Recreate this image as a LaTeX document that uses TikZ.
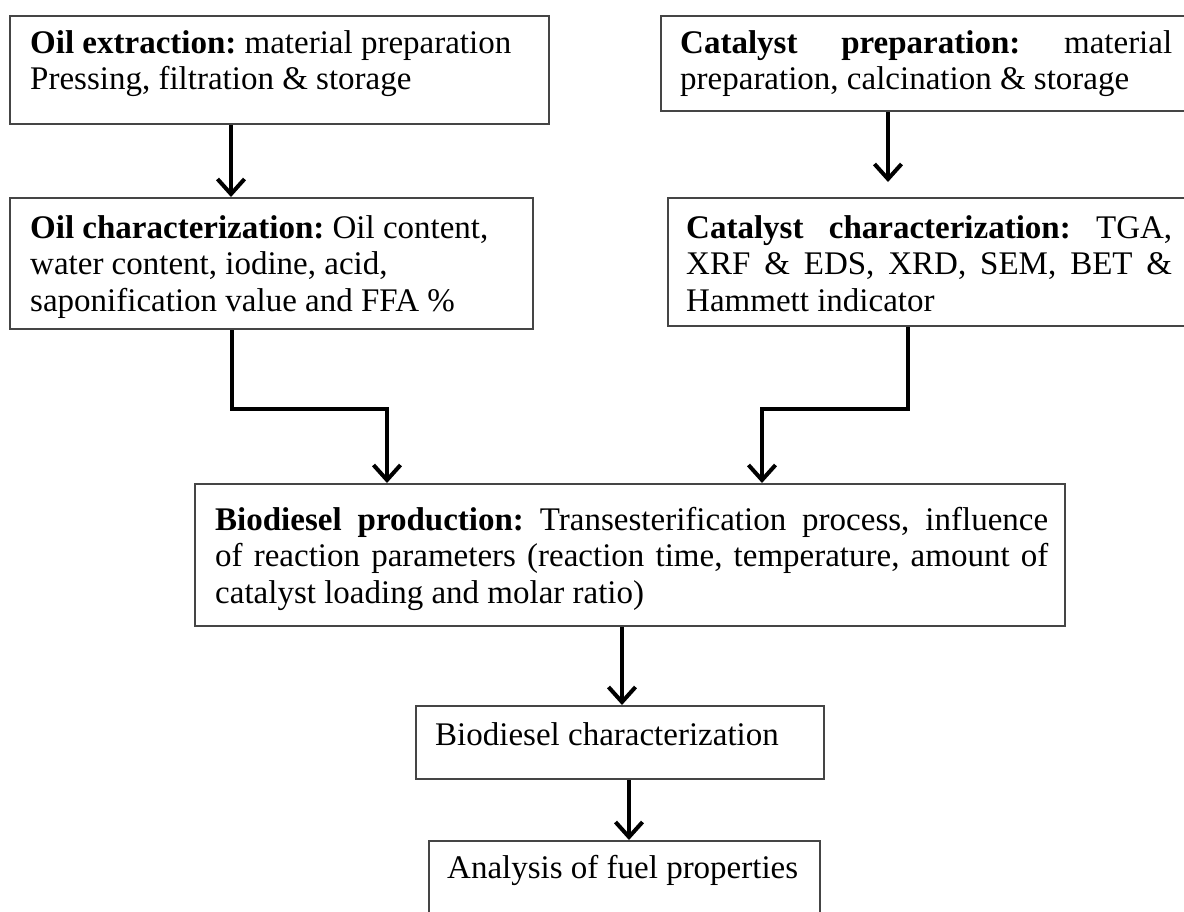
\documentclass[tikz,border=0pt]{standalone}
\usepackage{fontspec}
\setmainfont{Liberation Serif}
\usetikzlibrary{arrows.meta}
\definecolor{boxgray}{HTML}{454545}
\tikzset{
  box/.style={draw=boxgray, line width=2pt, anchor=north west, inner sep=0pt},
  txt/.style={anchor=base west, inner sep=0pt, font=\fontsize{33}{36.5}\selectfont\frenchspacing},
  conn/.style={line width=4pt, line join=miter, -{Straight Barb[length=15pt,width=27pt]}},
}
\hbadness=10000
\begin{document}
\begin{tikzpicture}[x=1pt,y=-1pt]
\useasboundingbox (0,0) rectangle (1184,911);
\clip (0,0) rectangle (1184,911);
% boxes
\node[box, minimum width=539pt, minimum height=108pt] (b1) at (9,15) {};
\node[box, minimum width=540pt, minimum height=95pt] (b2) at (660,15) {};
\node[box, minimum width=523pt, minimum height=131pt] (b3) at (9,197) {};
\node[box, minimum width=540pt, minimum height=128pt] (b4) at (667,197) {};
\node[box, minimum width=870pt, minimum height=142pt] (b5) at (194,483) {};
\node[box, minimum width=408pt, minimum height=73pt] (b6) at (415,705) {};
\node[box, minimum width=391pt, minimum height=100pt] (b7) at (428,840) {};
% texts
\node[txt] (t1) at (30,53) {\parbox[t]{510pt}{\textbf{Oil extraction:} material preparation\\Pressing, filtration \& storage}};
\node[txt] (t2) at (680,53) {\parbox[t]{492pt}{\makebox[492pt][s]{\textbf{Catalyst preparation:} material}\\preparation, calcination \& storage}};
\node[txt] (t3) at (30,238) {\parbox[t]{495pt}{\textbf{Oil characterization:} Oil content,\\water content, iodine, acid,\\saponification value and FFA \%}};
\node[txt] (t4) at (686,238) {\parbox[t]{486pt}{\makebox[486pt][s]{\textbf{Catalyst characterization:} TGA,}\\\makebox[486pt][s]{XRF \& EDS, XRD, SEM, BET \&}\\Hammett indicator}};
\node[txt] (t5) at (215,530) {\parbox[t]{833pt}{\makebox[833pt][s]{\textbf{Biodiesel production:} Transesterification process, influence}\\\makebox[833pt][s]{of reaction parameters (reaction time, temperature, amount of}\\catalyst loading and molar ratio)}};
\node[txt] (t6) at (435,745) {Biodiesel characterization};
\node[txt] (t7) at (447,878) {Analysis of fuel properties};
% connectors
\coordinate (x1) at (231,0);
\coordinate (x2) at (888,0);
\coordinate (p3) at (232,409);
\coordinate (q3) at (387,0);
\coordinate (p4) at (908,409);
\coordinate (q4) at (762,0);
\coordinate (x5) at (622,0);
\coordinate (x6) at (629,0);
\draw[conn] (b1.south -| x1) -- (b3.north -| x1);
\draw[conn] (b2.south -| x2) -- ++(0,70);
\draw[conn] (b3.south -| p3) -- (p3) -| (b5.north -| q3);
\draw[conn] (b4.south -| p4) -- (p4) -| (b5.north -| q4);
\draw[conn] (b5.south -| x5) -- (b6.north -| x5);
\draw[conn] (b6.south -| x6) -- (b7.north -| x6);
\end{tikzpicture}
\end{document}
